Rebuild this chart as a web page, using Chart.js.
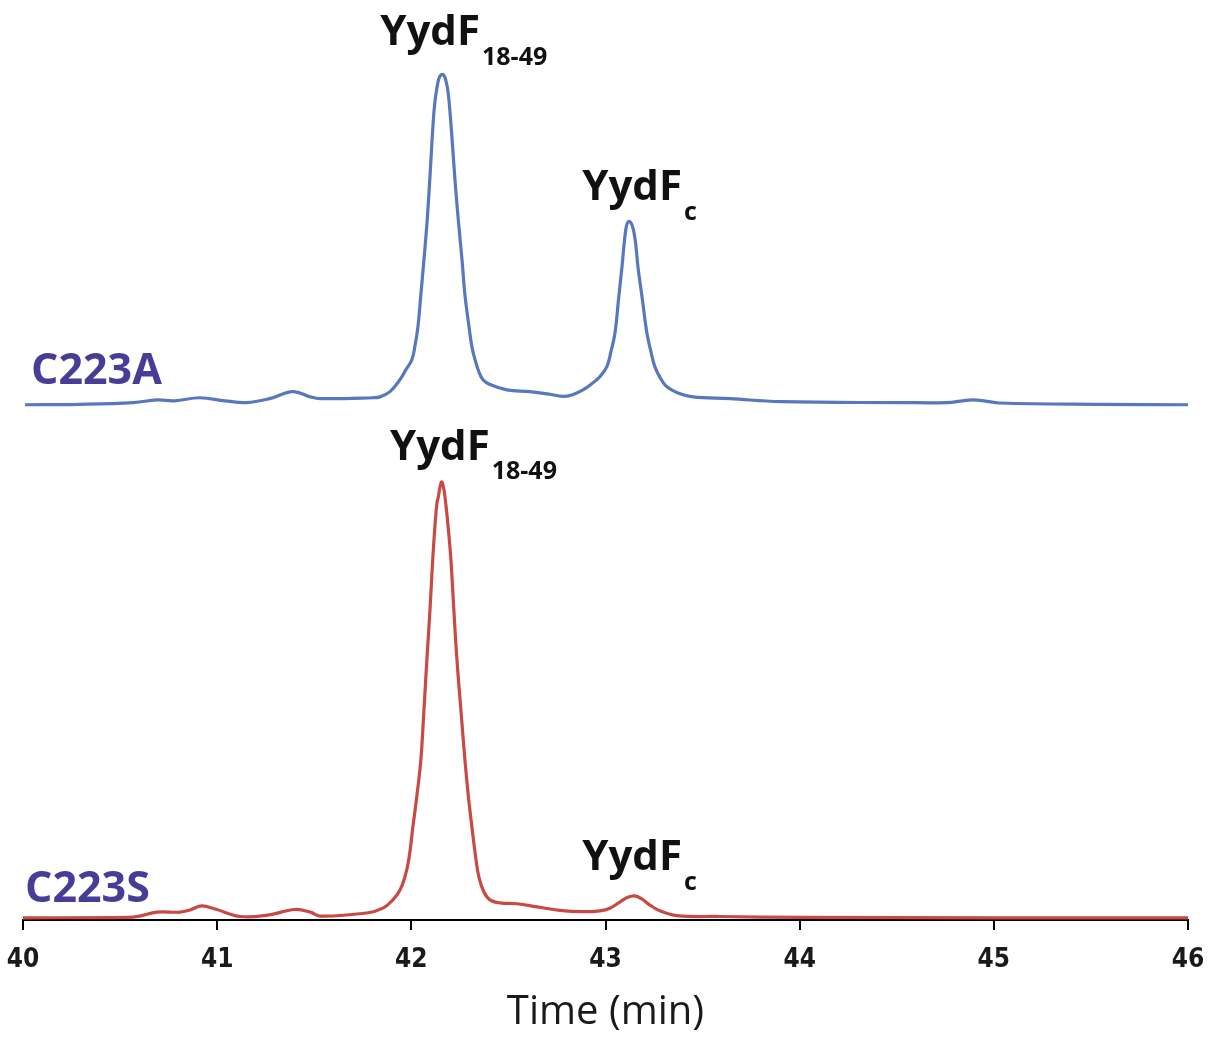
<!DOCTYPE html>
<html>
<head>
<meta charset="utf-8">
<script src="https://cdn.jsdelivr.net/npm/chart.js@4.4.1/dist/chart.umd.min.js"></script>
<style>
  html, body { margin: 0; padding: 0; background: #ffffff; }
  #wrap { width: 1210px; height: 1037px; }
</style>
</head>
<body>
<div id="wrap"><canvas id="c" width="1210" height="1037"></canvas></div>
<script>
// ---- Data (intensity in arbitrary units, red main peak = 100) ----
const timeA = [40.01, 40.29, 40.57, 40.69, 40.78, 40.91, 41.04, 41.15, 41.27, 41.39, 41.48, 41.53, 41.80, 41.838, 41.890, 41.941, 41.972, 42.003, 42.019, 42.034, 42.049, 42.065, 42.080, 42.091, 42.101, 42.111, 42.121, 42.132, 42.142, 42.155, 42.168, 42.178, 42.189, 42.199, 42.209, 42.219, 42.230, 42.245, 42.261, 42.276, 42.297, 42.312, 42.328, 42.348, 42.369, 42.405, 42.492, 42.611, 42.714, 42.780, 42.830, 42.884, 42.935, 42.971, 43.007, 43.028, 43.049, 43.067, 43.085, 43.098, 43.108, 43.118, 43.131, 43.144, 43.156, 43.167, 43.190, 43.213, 43.234, 43.254, 43.285, 43.316, 43.373, 43.450, 43.641, 43.90, 44.52, 44.76, 44.84, 44.89, 44.95, 45.03, 45.55, 46.00];
const signalC223A = [0.0, 0.1, 0.5, 1.1, 0.9, 1.6, 0.9, 0.5, 1.4, 3.0, 1.8, 1.4, 1.6, 1.8, 3.0, 5.7, 8.0, 10.3, 13.5, 17.8, 25.1, 33.1, 41.1, 48.4, 55.9, 63.4, 68.9, 72.3, 74.4, 75.3, 75.1, 73.9, 71.4, 66.8, 61.1, 54.8, 48.4, 40.6, 33.1, 25.1, 17.8, 13.2, 10.3, 7.5, 5.7, 4.6, 3.4, 3.0, 2.4, 1.9, 2.3, 3.4, 5.0, 6.4, 8.7, 12.1, 16.4, 24.0, 31.5, 37.6, 40.8, 41.8, 41.5, 39.9, 36.5, 31.5, 24.0, 16.4, 12.1, 8.7, 5.9, 4.1, 2.7, 1.8, 1.4, 0.7, 0.5, 0.5, 0.9, 1.1, 0.9, 0.4, 0.1, 0.0];

const timeS = [40.00, 40.54, 40.60, 40.69, 40.81, 40.86, 40.92, 40.99, 41.12, 41.26, 41.40, 41.48, 41.53, 41.77, 41.854, 41.905, 41.941, 41.967, 41.988, 42.008, 42.029, 42.049, 42.065, 42.080, 42.096, 42.110, 42.122, 42.132, 42.140, 42.147, 42.157, 42.168, 42.178, 42.191, 42.204, 42.219, 42.235, 42.256, 42.276, 42.294, 42.312, 42.330, 42.348, 42.374, 42.405, 42.456, 42.544, 42.647, 42.765, 42.884, 42.971, 43.023, 43.074, 43.115, 43.151, 43.187, 43.229, 43.280, 43.368, 43.59, 44.00, 45.03, 46.00];
const signalC223S = [0.5, 0.6, 0.9, 1.8, 1.8, 2.3, 3.2, 2.5, 0.8, 1.1, 2.4, 1.8, 0.9, 1.6, 2.7, 4.6, 6.8, 9.8, 14.1, 21.2, 28.5, 36.5, 47.9, 59.3, 70.7, 82.1, 90.1, 95.1, 96.7, 98.6, 99.9, 98.1, 94.7, 89.0, 82.1, 70.7, 59.3, 47.5, 36.5, 28.1, 21.2, 14.8, 9.8, 6.4, 4.6, 3.9, 3.7, 3.0, 2.2, 1.9, 2.1, 2.7, 4.1, 5.2, 5.5, 4.8, 3.4, 2.1, 1.0, 0.8, 0.6, 0.5, 0.5];

const xTicks = [40, 41, 42, 43, 44, 45, 46];
const traceNames = ['C223A', 'C223S'];
const offsetC223A = 117.5; // vertical stacking offset for the upper trace
const axisTitle = 'Time (min)';

// peak annotations (label anchor time, text)
const peakLabels = [
  { t: 41.84, main: 'YydF', sub: '18-49', base: 45, subBase: 65 },
  { t: 42.88, main: 'YydF', sub: 'c', base: 200, subBase: 220 },
  { t: 41.89, main: 'YydF', sub: '18-49', base: 460, subBase: 479 },
  { t: 42.88, main: 'YydF', sub: 'c', base: 870, subBase: 890 }
];

// ---- Build datasets ----
const dataA = timeA.map((t, i) => ({ x: t, y: signalC223A[i] + offsetC223A }));
const dataS = timeS.map((t, i) => ({ x: t, y: signalC223S[i] }));

const BLUE = '#5877bd';
const RED = '#c74a44';
const PURPLE = '#463d97';

const labelPlugin = {
  id: 'peakLabels',
  afterDatasetsDraw(chart) {
    const ctx = chart.ctx;
    const xs = chart.scales.x, ys = chart.scales.y;
    ctx.save();
    ctx.textBaseline = 'alphabetic';
    ctx.textAlign = 'left';
    ctx.fillStyle = PURPLE;
    ctx.font = 'bold 43px "Open Sans"';
    ctx.fillText(traceNames[0], 31, ys.getPixelForValue(offsetC223A) - 21);
    ctx.fillText(traceNames[1], 25, ys.getPixelForValue(0) - 18);
    ctx.fillStyle = '#111';
    peakLabels.forEach(p => {
      const x = xs.getPixelForValue(p.t);
      ctx.font = 'bold 42px "Open Sans"';
      ctx.fillText(p.main, x, p.base);
      const w = ctx.measureText(p.main).width;
      ctx.font = 'bold 25px "Open Sans"';
      ctx.fillText(p.sub, x + w + 2, p.subBase);
    });
    ctx.restore();
  }
};

new Chart(document.getElementById('c'), {
  type: 'line',
  data: {
    datasets: [
      { label: traceNames[0], data: dataA, borderColor: BLUE, borderWidth: 3.2, pointRadius: 0, tension: 0.4, fill: false },
      { label: traceNames[1], data: dataS, borderColor: RED, borderWidth: 3.2, pointRadius: 0, tension: 0.4, fill: false }
    ]
  },
  options: {
    responsive: false,
    animation: false,
    events: [],
    layout: { padding: { top: 43, left: 23, right: 22, bottom: 0 } },
    plugins: { legend: { display: false }, tooltip: { enabled: false } },
    scales: {
      x: {
        type: 'linear',
        min: 40, max: 46,
        afterBuildTicks(scale) { scale.ticks = xTicks.map(v => ({ value: v })); },
        afterFit(scale) { scale.height = 117; scale.paddingLeft = 0; scale.paddingRight = 0; },
        border: { display: true, color: '#000', width: 2 },
        grid: { drawOnChartArea: false, drawTicks: true, tickLength: 10, color: '#000', lineWidth: 2 },
        ticks: {
          color: '#1a1a1a', padding: 15, maxRotation: 0,
          font: { family: '"DejaVu Sans Condensed", sans-serif', weight: 'bold', size: 26 },
          callback: v => String(v)
        },
        title: {
          display: true, text: axisTitle, color: '#1a1a1a',
          font: { family: '"Open Sans"', size: 40, weight: 'normal' },
          padding: { top: 0, bottom: 0 }
        }
      },
      y: { display: false, min: 0, max: 200 }
    }
  },
  plugins: [labelPlugin]
});
</script>
</body>
</html>
